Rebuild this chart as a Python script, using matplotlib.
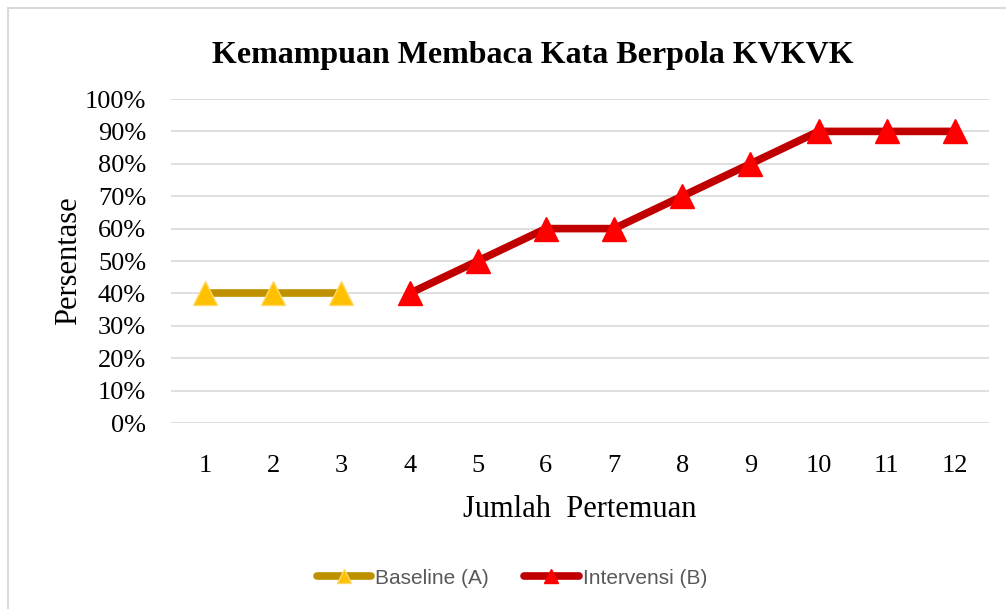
import numpy as np
import matplotlib
matplotlib.use("Agg")
import matplotlib.pyplot as plt
from matplotlib.patches import Rectangle
from matplotlib.ticker import PercentFormatter

# data
sessions = list(range(1, 13))
baseline_x = [1, 2, 3]
baseline_y = [40, 40, 40]
interv_x = [4, 5, 6, 7, 8, 9, 10, 11, 12]
interv_y = [40, 50, 60, 60, 70, 80, 90, 90, 90]

serif = "Liberation Serif"

fig = plt.figure(figsize=(10.06, 6.09), dpi=100)
fig.patches.append(Rectangle((8 / 1006, -0.1), 1.2, 1.1 - 8.5 / 609, transform=fig.transFigure,
                             fill=False, edgecolor="#D9D9D9", linewidth=1.5))

ax = fig.add_axes([171 / 1006, 1 - 423 / 609, 818 / 1006, 324 / 609])

ax.plot(baseline_x, baseline_y, color="#BF9000", linewidth=5.5, marker="^", markersize=17,
        markerfacecolor="#FFC000", markeredgecolor="#FFD966", markeredgewidth=1,
        label="Baseline (A)", solid_capstyle="round", zorder=3)
ax.plot(interv_x, interv_y, color="#C00000", linewidth=5.5, marker="^", markersize=17,
        markerfacecolor="#FF0000", markeredgecolor="#FF0000", markeredgewidth=1,
        label="Intervensi (B)", solid_capstyle="round", zorder=3)

ax.set_xlim(0.5, 12.5)
ax.set_ylim(0, 100)
ax.set_yticks(np.arange(0, 101, 10))
ax.yaxis.set_major_formatter(PercentFormatter(decimals=0))
ax.set_xticks(sessions)
ax.grid(axis="y", color="#D9D9D9", linewidth=1.2)
ax.set_axisbelow(True)
for s in ax.spines.values():
    s.set_visible(False)
ax.tick_params(length=0, labelsize=19)
ax.tick_params(axis="x", pad=23)
ax.tick_params(axis="y", pad=18)
for lab in ax.get_xticklabels() + ax.get_yticklabels():
    lab.set_fontfamily(serif)

ax.set_xlabel("Jumlah  Pertemuan", fontfamily=serif, fontsize=22, labelpad=13)
ax.set_ylabel("Persentase", fontfamily=serif, fontsize=22, labelpad=1)

fig.text(0.5295, 1 - 55 / 609, "Kemampuan Membaca Kata Berpola KVKVK", ha="center", va="center",
         fontfamily=serif, fontweight="bold", fontsize=23)

leg = ax.legend(loc="center", bbox_to_anchor=(512 / 1006, 1 - 578 / 609), bbox_transform=fig.transFigure,
                ncol=2, frameon=False, handlelength=2.6, columnspacing=1.7, handletextpad=0.2,
                prop={"family": "Liberation Sans", "size": 15}, markerscale=0.6)
for t in leg.get_texts():
    t.set_color("#595959")

fig.savefig("out.png", dpi=100)
